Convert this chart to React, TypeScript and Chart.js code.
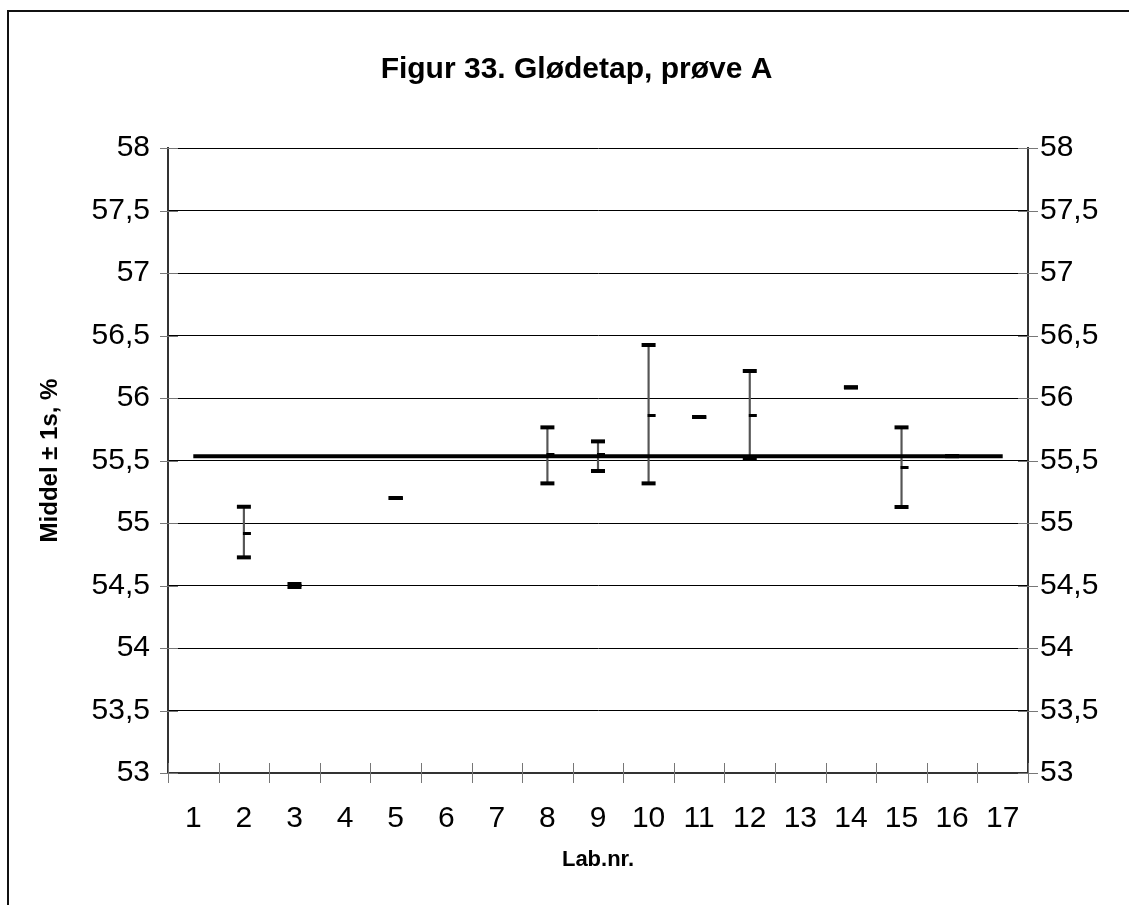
import React, { useEffect, useRef } from "react";
import { Chart, registerables } from "chart.js";

Chart.register(...registerables);

const titleText = "Figur 33. Glødetap, prøve A";
const yTitle = "Middel ± 1s, %";
const xTitle = "Lab.nr.";
const xLabels = ["1", "2", "3", "4", "5", "6", "7", "8", "9", "10", "11", "12", "13", "14", "15", "16", "17"];
const highValues = [null, 55.13, 54.512, null, 55.2, null, null, 55.765, 55.653, 56.424, 55.848, 56.216, null, 56.085, 55.765, 55.535, null];
const lowValues = [null, 54.725, 54.488, null, 55.2, null, null, 55.317, 55.416, 55.317, 55.848, 55.512, null, 56.085, 55.128, 55.535, null];
const meanValues = [null, 54.917, 54.5, null, 55.2, null, null, 55.545, 55.545, 55.864, 55.848, 55.861, null, 56.085, 55.448, 55.535, null];
const overallMean = 55.535;
const yMin = 53;
const yMax = 58;
const yStep = 0.5;

const FONT = '"Liberation Sans", Arial, sans-serif';

function makeMeanTick(): HTMLCanvasElement {
  const c = document.createElement("canvas");
  c.width = 16;
  c.height = 3;
  const ctx = c.getContext("2d")!;
  ctx.fillStyle = "#000";
  ctx.fillRect(7, 0, 8, 3);
  return c;
}

const decorPlugin = {
  id: "decor",
  beforeDraw(chart: any) {
    const ctx = chart.ctx;
    ctx.save();
    ctx.fillStyle = "#fff";
    ctx.fillRect(0, 0, chart.width, chart.height);
    ctx.restore();
  },
  afterDraw(chart: any) {
    const ctx = chart.ctx;
    const { left, right, bottom } = chart.chartArea;
    const y = chart.scales.y;
    const x = chart.scales.x;
    ctx.save();
    ctx.strokeStyle = "#777";
    ctx.lineWidth = 1;
    y.ticks.forEach((t: any) => {
      const py = Math.round(y.getPixelForValue(t.value)) + 0.5;
      ctx.beginPath();
      ctx.moveTo(left - 8, py);
      ctx.lineTo(left + 10, py);
      ctx.moveTo(right - 10, py);
      ctx.lineTo(right + 10, py);
      ctx.stroke();
    });
    const n = xLabels.length;
    const slot = (right - left) / n;
    for (let i = 0; i <= n; i++) {
      const px = Math.round(i < n ? x.getPixelForValue(i) - slot / 2 : x.getPixelForValue(n - 1) + slot / 2) + 0.5;
      ctx.beginPath();
      ctx.moveTo(px, bottom - 10);
      ctx.lineTo(px, bottom + 10);
      ctx.stroke();
    }
    ctx.strokeStyle = "#111";
    ctx.lineWidth = 2;
    ctx.strokeRect(8, 11, chart.width + 50, chart.height + 50);
    ctx.restore();
  },
};

export default function App() {
  const ref = useRef<HTMLCanvasElement | null>(null);
  useEffect(() => {
    document.body.style.margin = "0";
    const canvas = ref.current!;
    const meanTick = makeMeanTick();
    const chart = new Chart(canvas, {
      data: {
        labels: xLabels,
        datasets: [
          {
            type: "line",
            label: "mean",
            data: xLabels.map(() => overallMean),
            borderColor: "#000",
            borderWidth: 4,
            pointRadius: 0,
            order: 0,
          } as any,
          {
            type: "bar",
            label: "range",
            data: xLabels.map((_, i) => (highValues[i] == null ? null : [lowValues[i], highValues[i]])),
            backgroundColor: "#555",
            barThickness: 1.5,
            order: 3,
          } as any,
          {
            type: "line",
            label: "high",
            data: highValues,
            showLine: false,
            pointStyle: "line",
            pointRadius: 7,
            pointHoverRadius: 7,
            pointBorderWidth: 4,
            borderColor: "#000",
            pointBorderColor: "#000",
            order: 1,
          } as any,
          {
            type: "line",
            label: "low",
            data: lowValues,
            showLine: false,
            pointStyle: "line",
            pointRadius: 7,
            pointHoverRadius: 7,
            pointBorderWidth: 4,
            borderColor: "#000",
            pointBorderColor: "#000",
            order: 1,
          } as any,
          {
            type: "line",
            label: "middel",
            data: meanValues,
            showLine: false,
            pointStyle: meanTick,
            pointRadius: 8,
            order: 1,
          } as any,
        ],
      },
      options: {
        responsive: false,
        animation: false,
        devicePixelRatio: 1,
        events: [],
        layout: { padding: { left: 24, right: 0, top: 0, bottom: 0 } },
        plugins: {
          legend: { display: false },
          tooltip: { enabled: false },
          title: {
            display: true,
            text: titleText,
            color: "#000",
            font: { family: FONT, size: 30, weight: "bold", lineHeight: 1.2 },
            padding: { top: 52, bottom: 60 },
          },
        },
        scales: {
          x: {
            type: "category",
            offset: true,
            grid: { drawOnChartArea: false, drawTicks: false },
            border: { display: true, color: "#333", width: 2 },
            ticks: {
              color: "#000",
              font: { family: FONT, size: 30 },
              padding: 28,
              maxRotation: 0,
              autoSkip: false,
            },
            title: {
              display: true,
              text: xTitle,
              color: "#000",
              font: { family: FONT, size: 22, weight: "bold", lineHeight: 1.2 },
              padding: { top: 0, bottom: 31.8 },
            },
            afterFit: (s: any) => {
              s.height = 132;
            },
          },
          y: {
            type: "linear",
            position: "left",
            min: yMin,
            max: yMax,
            grid: { color: "#000", lineWidth: 1, drawTicks: false },
            border: { display: true, color: "#333", width: 2 },
            ticks: {
              stepSize: yStep,
              color: "#000",
              font: { family: FONT, size: 30 },
              padding: 18,
              callback: (v: any) => String(v).replace(".", ","),
            },
            title: {
              display: true,
              text: yTitle,
              color: "#000",
              font: { family: FONT, size: 24, weight: "bold", lineHeight: 1.2 },
              padding: { top: 11.6, bottom: 0 },
            },
            afterFit: (s: any) => {
              s.width = 144;
            },
          },
          y2: {
            type: "linear",
            position: "right",
            min: yMin,
            max: yMax,
            grid: { drawOnChartArea: false, drawTicks: false },
            border: { display: true, color: "#333", width: 2 },
            ticks: {
              stepSize: yStep,
              color: "#000",
              font: { family: FONT, size: 30 },
              padding: 12,
              callback: (v: any) => String(v).replace(".", ","),
            },
            afterFit: (s: any) => {
              s.width = 101;
            },
          },
        },
      },
      plugins: [decorPlugin],
    } as any);
    return () => chart.destroy();
  }, []);
  return (
    <canvas
      ref={ref}
      width={1129}
      height={905}
      style={{ display: "block", width: "1129px", height: "905px" }}
    />
  );
}
